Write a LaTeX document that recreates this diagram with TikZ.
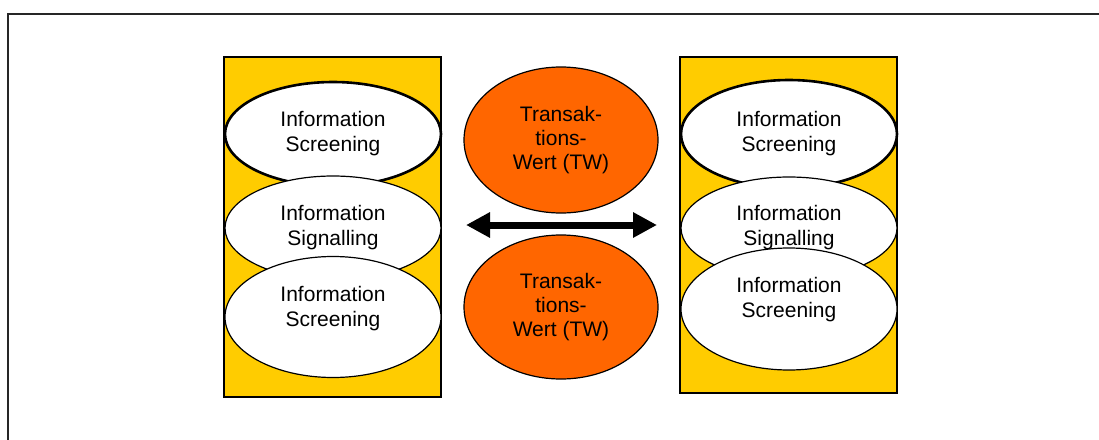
\documentclass[tikz,border=0pt]{standalone}
\usepackage{fontspec}
\setmainfont{Liberation Sans}
\usetikzlibrary{shapes.geometric,arrows.meta}
\definecolor{boxyellow}{HTML}{FFCC00}
\definecolor{tworange}{HTML}{FF6600}
\tikzset{
  panel/.style={draw=black, line width=1.2pt, fill=boxyellow},
  label text/.style={align=center, inner sep=0pt, font=\fontsize{21}{25}\selectfont},
  info/.style={ellipse, draw=black, line width=1.2pt, fill=white, inner sep=0pt,
    minimum width=216pt, label text},
  infothick/.style={info, line width=2.6pt},
  tw/.style={ellipse, draw=black, line width=1.2pt, fill=tworange, inner sep=0pt,
    minimum width=194pt, align=center, font=\fontsize{21}{24}\selectfont},
  frame/.style={draw=black!85, line width=2pt},
  twoway/.style={line width=7pt, {Triangle[length=24pt,width=24pt]}-{Triangle[length=24pt,width=24pt]}}
}
\begin{document}
\begin{tikzpicture}[x=1pt,y=-1pt]
  \useasboundingbox (0,0) rectangle (1099,439);
  % outer frame (only top and left edges fall inside the page)
  \draw[frame] (8,450) -- (8,14) -- (1110,14);

  % left panel
  \draw[panel] (224,57) rectangle (441,397);
  \node[infothick, minimum height=104pt] (l1) at (333,134) {Information\\Screening};
  \node[info, minimum height=104pt] (l2) at (333,228) {Information\\Signalling};
  \node[info, minimum height=121pt] (l3) at (333,317) {};
  \node[label text] (l3t) at ([yshift=8.5pt]l3.center) {Information\\Screening};

  % right panel
  \draw[panel] (680,57) rectangle (897,393);
  \node[infothick, minimum height=108pt] (r1) at (789,134) {Information\\Screening};
  \node[info, minimum height=102pt] (r2) at (789,228) {Information\\Signalling};
  \node[info, minimum height=122pt] (r3) at (789,309) {};
  \node[label text] (r3t) at ([yshift=9pt]r3.center) {Information\\Screening};

  % transaction value ellipses
  \node[tw, minimum height=146pt] (tw1) at (561,140) {Transak-\\tions-\\Wert (TW)};
  \node[tw, minimum height=144pt] (tw2) at (561,307) {Transak-\\tions-\\Wert (TW)};

  % two-headed arrow between the panels
  \coordinate (aL) at (466,225);
  \coordinate (aR) at (657,225);
  \draw[twoway] (aL) -- (aR);
\end{tikzpicture}
\end{document}
